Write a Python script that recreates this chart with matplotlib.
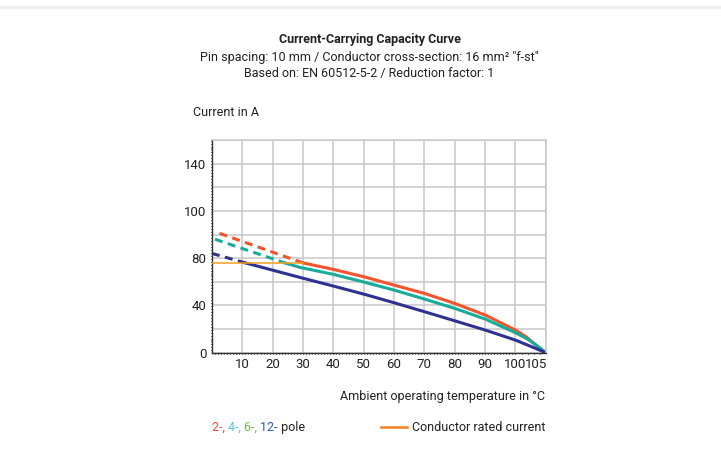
import numpy as np
import matplotlib
matplotlib.use('Agg')
from matplotlib import pyplot as plt
from matplotlib.ticker import FixedLocator, MultipleLocator
from matplotlib.transforms import ScaledTranslation

plt.rcParams['font.family'] = ['Roboto', 'DejaVu Sans']

# temperature (°C) vs current (A)
red_dash_t = [2.5, 30]
red_dash_a = [101, 76]
teal_dash_t = [1, 24]
teal_dash_a = [96, 76]
blue_dash_t = [0, 11]
blue_dash_a = [84, 76]

red_t = [30, 40, 50, 60, 70, 80, 90, 100, 101.75, 103.4, 105]
red_a = [76, 70.5, 64.3, 57.2, 50.2, 41.7, 31.9, 19.2, 13.5, 6.5, 0]
teal_t = [24, 29, 40, 50, 60, 70, 80, 90, 100, 102, 103.5, 105]
teal_a = [76, 72.2, 66.3, 59.8, 53, 45.4, 37.5, 28.5, 16.9, 11.5, 6, 0]
blue_t = [11, 29, 40, 50, 60, 70, 80, 90, 100, 102.5, 105]
blue_a = [76, 63.7, 56.4, 49.6, 42.3, 34.7, 27, 19.2, 10.7, 5.4, 0]

rated_t = [0, 30]
rated_a = [76, 76]

xticks = [10, 20, 30, 40, 50, 60, 70, 80, 90, 100, 105]
xticklabels = ['10', '20', '30', '40', '50', '60', '70', '80', '90', '100', '105']
yticks = [0, 40, 80, 120, 160]
yticklabels = ['0', '40', '80', '100', '140']   # as printed on the original

RED = '#f2542d'
TEAL = '#17ab9a'
BLUE = '#2e3192'
ORANGE = '#f7a01c'
TXT = '#222222'
FS = 9

def fwd(t):
    t = np.asarray(t, dtype=float)
    return np.where(t <= 100, t, 100 + 2 * (t - 100))

def inv(p):
    p = np.asarray(p, dtype=float)
    return np.where(p <= 100, p, 100 + (p - 100) / 2)

fig = plt.figure(figsize=(7.21, 4.54), dpi=100)
ax = fig.add_axes([0.294, 0.2231, 0.463, 0.4685])
ax.set_xscale('function', functions=(fwd, inv))
ax.set_xlim(0, 105)
ax.set_ylim(0, 180)

dash = (0, (2.6, 1.8))
ax.plot(red_dash_t, red_dash_a, color=RED, lw=2.2, ls=dash)
ax.plot(teal_dash_t, teal_dash_a, color=TEAL, lw=2.2, ls=dash)
ax.plot(blue_dash_t, blue_dash_a, color=BLUE, lw=2.2, ls=dash)
ax.plot(red_t, red_a, color=RED, lw=2.2)
ax.plot(teal_t, teal_a, color=TEAL, lw=2.2)
ax.plot(blue_t, blue_a, color=BLUE, lw=2.2)
ax.plot(rated_t, rated_a, color=ORANGE, lw=1.1, zorder=5)

ax.xaxis.set_major_locator(FixedLocator(xticks))
ax.set_xticklabels(xticklabels)
ax.set_yticks(yticks)
ax.set_yticklabels(yticklabels)
ax.yaxis.set_minor_locator(MultipleLocator(20))
ax.grid(True, which='major', color='#c8c8c8', lw=1.1)
ax.grid(True, which='minor', axis='y', color='#c8c8c8', lw=1.1)
ax.set_axisbelow(True)
ax.tick_params(which='both', length=0, labelsize=9.5, colors=TXT, pad=4)
last = ax.get_xticklabels()[-1]
last.set_horizontalalignment('right')
last.set_transform(last.get_transform() + ScaledTranslation(0.02, 0, fig.dpi_scale_trans))

# little dots along the left and bottom spines
for tt in np.arange(1, 105, 1):
    ax.plot([tt, tt], [0, -1.5], color='#555555', lw=0.6, clip_on=False)
for yy in np.arange(2, 180, 2.5):
    ax.plot([0, -0.45], [yy, yy], color='#555555', lw=0.6, clip_on=False)

for side in ['top', 'right']:
    ax.spines[side].set_color('#c8c8c8')
    ax.spines[side].set_linewidth(1.1)
for side in ['left', 'bottom']:
    ax.spines[side].set_color('#333333')
    ax.spines[side].set_linewidth(1.0)

fig.text(0.5125, 0.914, 'Current-Carrying Capacity Curve', ha='center', va='center',
         fontsize=FS, fontweight='bold', color=TXT)
fig.text(0.5125, 0.874, 'Pin spacing: 10 mm / Conductor cross-section: 16 mm² "f-st"',
         ha='center', va='center', fontsize=FS, color=TXT)
fig.text(0.5125, 0.839, 'Based on: EN 60512-5-2 / Reduction factor: 1', ha='center', va='center',
         fontsize=FS, color=TXT)
fig.text(0.268, 0.753, 'Current in A', ha='left', va='center', fontsize=FS, color=TXT)
fig.text(0.756, 0.126, 'Ambient operating temperature in °C', ha='right', va='center',
         fontsize=FS, color=TXT)

# legend row
parts = [('2-, ', '#f2483c'), ('4-, ', '#5bc3de'), ('6-, ', '#6cbd45'), ('12-', '#2a5caa'),
         (' pole', TXT)]
x = 0.294
for s, c in parts:
    t = fig.text(x, 0.059, s, ha='left', va='center', fontsize=FS, color=c)
    fig.canvas.draw()
    bb = t.get_window_extent()
    x += bb.width / fig.bbox.width
fig.add_artist(plt.Line2D([0.528, 0.565], [0.059, 0.059], color='#f57f20', lw=1.8))
fig.text(0.756, 0.059, 'Conductor rated current', ha='right', va='center', fontsize=FS,
         color=TXT)
fig.add_artist(plt.Line2D([0.0, 1.0], [0.984, 0.984], color='#eeeff2', lw=2.5))

fig.savefig('out.png', dpi=100)
